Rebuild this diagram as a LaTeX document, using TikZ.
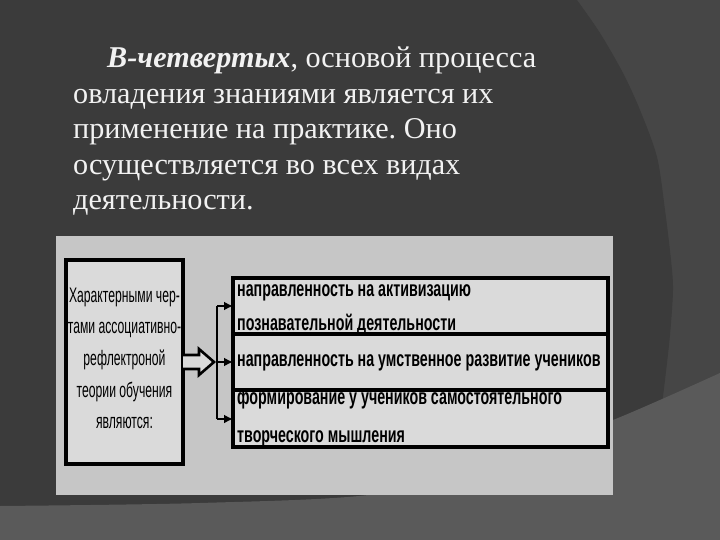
\documentclass[tikz,border=0pt]{standalone}
\usepackage{fontspec}
\setmainfont{Liberation Serif}
\newfontfamily\boxfont[FakeStretch=0.648]{Liberation Sans}
\newfontfamily\leftfont[FakeStretch=0.58]{Liberation Sans}
\usetikzlibrary{arrows.meta}
\frenchspacing
\definecolor{bgmid}{HTML}{464646}
\definecolor{bgdark}{HTML}{3B3B3B}
\definecolor{bglow}{HTML}{5A5A5A}
\definecolor{panel}{HTML}{C6C6C6}
\definecolor{boxfill}{HTML}{DADADA}
\definecolor{txt}{HTML}{F2F2F2}
\tikzset{
  x=1pt, y=-1pt,
  maintext/.style={anchor=base west, inner sep=0pt, text=txt, font=\fontsize{30.2}{36}\selectfont},
  featbox/.style={draw=black, line width=3.2pt, fill=boxfill},
  boxtext/.style={anchor=base west, inner sep=0pt, font=\boxfont\bfseries\fontsize{22}{26}\selectfont},
  lefttext/.style={anchor=base, inner sep=0pt, font=\leftfont\fontsize{21}{24}\selectfont},
  conn/.style={line width=2.6pt, -{Latex[length=9pt,width=9pt]}},
}
\begin{document}
\begin{tikzpicture}
\useasboundingbox (0,0) rectangle (720,540);
% background
\fill[bgmid] (0,0) rectangle (720,540);
\fill[bgdark] (0,0) -- plot[smooth] coordinates {(577,0) (600,33) (623,73) (640,110) (657,157) (665,210) (671,260) (673,290) (670,335) (665,380) (660,420)} -- (660,540) -- (0,540) -- cycle;
\fill[bglow] plot[smooth] coordinates {(0,506) (200,503) (376,494) (500,460) (613,420) (720,373)} -- (720,540) -- (0,540) -- cycle;
% main text
\node[maintext] (t1) at (107,68) {\textbf{\textit{В-четвертых}}, основой процесса};
\node[maintext] (t2) at (73,104) {овладения знаниями является их};
\node[maintext] (t3) at (73,139) {применение на практике. Оно};
\node[maintext] (t4) at (73,175) {осуществляется во всех видах};
\node[maintext] (t5) at (73,210) {деятельности.};
% panel
\fill[panel] (56,236) rectangle (613,495);
% left box
\draw[featbox] (66,260) rectangle (183,464);
\node[lefttext] (l1) at (124.5,302) {Характерными чер-};
\node[lefttext] (l2) at (124.5,333) {тами ассоциативно-};
\node[lefttext] (l3) at (124.5,365) {рефлектроной};
\node[lefttext] (l4) at (124.5,397) {теории обучения};
\node[lefttext] (l5) at (124.5,428) {являются:};
% right boxes
\draw[featbox] (233,278) rectangle (608,334);
\draw[featbox] (233,334) rectangle (608,390);
\draw[featbox] (233,390) rectangle (608,447);
\coordinate (b1) at (233,306);
\coordinate (b2) at (233,362);
\coordinate (b3) at (233,419);
\node[boxtext] (r1a) at (237,296) {направленность на активизацию};
\node[boxtext] (r1b) at (237,330) {познавательной деятельности};
\node[boxtext] (r2) at (237,366) {направленность на умственное развитие учеников};
\node[boxtext] (r3a) at (237,404) {формирование у учеников самостоятельного};
\node[boxtext] (r3b) at (237,442) {творческого мышления};
% block arrow
\draw[line width=2.6pt, fill=boxfill, line join=miter]
  (183,355) -- (199,355) -- (199,349) -- (214,362) -- (199,375) -- (199,369) -- (183,369);
% branching
\coordinate (v1) at (217,306);
\coordinate (v2) at (217,362);
\coordinate (v3) at (217,419);
\draw[line width=2.6pt] (v1) -- (v3);
\draw[conn] (v1) -- (b1);
\draw[conn] (v2) -- (b2);
\draw[conn] (v3) -- (b3);
\end{tikzpicture}
\end{document}
